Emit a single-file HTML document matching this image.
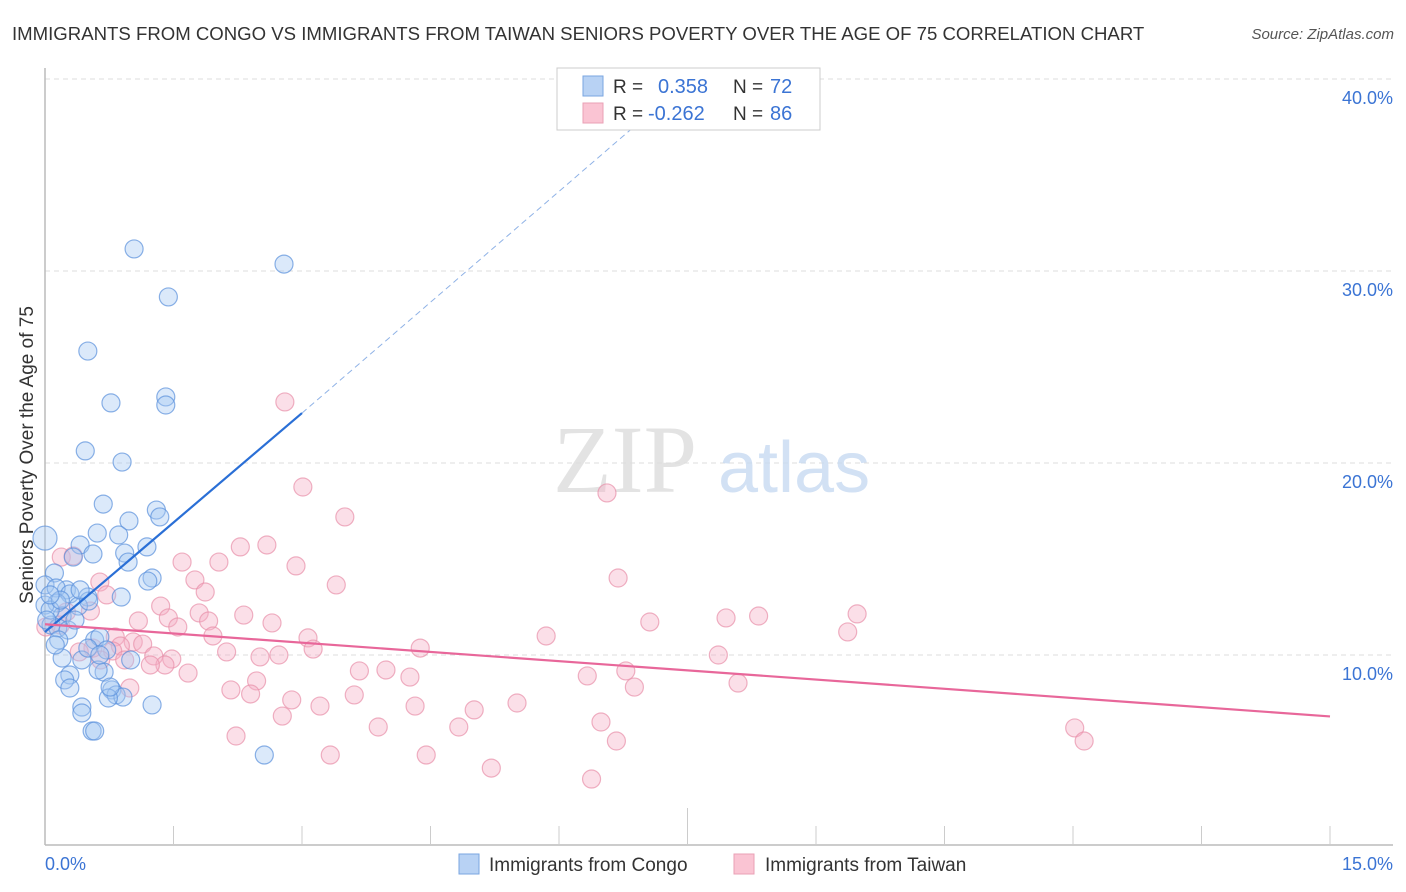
<!DOCTYPE html>
<html><head><meta charset="utf-8"><style>
body{margin:0;background:#fff;font-family:"Liberation Sans",sans-serif}
svg{display:block}
</style></head><body>
<svg id="chart" width="1406" height="892" xmlns="http://www.w3.org/2000/svg">
<text x="12" y="40" font-size="18.6" fill="#333">IMMIGRANTS FROM CONGO VS IMMIGRANTS FROM TAIWAN SENIORS POVERTY OVER THE AGE OF 75 CORRELATION CHART</text>
<text x="1394" y="39" font-size="15" fill="#555" font-style="italic" text-anchor="end">Source: ZipAtlas.com</text>
<g id="grid"></g>
<g><text x="553" y="492" font-size="96" fill="#ddd" font-family="Liberation Serif" opacity="0.8">ZIP</text><text x="718" y="492" font-size="72" fill="#c8daf2" opacity="0.8">atlas</text></g>
<g id="axes"></g>
<g id="pts"></g>
<g id="trends"></g>
<text x="33" y="455" font-size="19" fill="#333" text-anchor="middle" transform="rotate(-90 33 455)">Seniors Poverty Over the Age of 75</text>
<text x="45" y="870" font-size="18" fill="#3b74d4">0.0%</text>
<text x="1393" y="870" font-size="18" fill="#3b74d4" text-anchor="end">15.0%</text>
<g>
<g><rect x="459" y="854" width="20" height="20" fill="#b8d2f4" stroke="#7aa6e0"/><text x="489" y="871" font-size="19" fill="#333">Immigrants from Congo</text></g>
<g><rect x="734" y="854" width="20" height="20" fill="#fac4d3" stroke="#eaa0b6"/><text x="765" y="871" font-size="19" fill="#333">Immigrants from Taiwan</text></g>
</g>
<g>
<rect x="557" y="68" width="263" height="62" fill="#fff" stroke="#ccc"/>
<rect x="583" y="76" width="20" height="20" fill="#b8d2f4" stroke="#7aa6e0"/>
<rect x="583" y="103" width="20" height="20" fill="#fac4d3" stroke="#eaa0b6"/>
<text x="613" y="93" font-size="19" fill="#333">R =</text><text x="658" y="93" font-size="20" fill="#3b74d4">0.358</text>
<text x="733" y="93" font-size="19" fill="#333">N =</text><text x="770" y="93" font-size="20" fill="#3b74d4">72</text>
<text x="613" y="120" font-size="19" fill="#333">R =</text><text x="648" y="120" font-size="20" fill="#3b74d4">-0.262</text>
<text x="733" y="120" font-size="19" fill="#333">N =</text><text x="770" y="120" font-size="20" fill="#3b74d4">86</text>
</g>
</svg>
<script>
const yTicks=[10,20,30,40];
const yTickLabels=["10.0%","20.0%","30.0%","40.0%"];
const congoX=[1.04,2.79,1.44,0.50,1.41,0.77,1.41,0.47,0.90,0.68,1.30,1.34,0.00,0.61,0.98,0.86,0.41,0.33,0.56,1.19,0.93,0.97,0.11,1.25,1.20,0.00,0.25,0.13,0.29,0.50,0.89,0.39,0.14,0.00,0.51,0.20,0.07,0.15,0.27,0.16,0.58,0.64,0.72,0.43,0.29,0.20,0.69,0.62,0.23,0.29,0.78,0.83,0.91,0.74,1.25,0.43,0.43,0.55,0.58,2.56,0.06,0.02,0.35,0.41,0.18,1.00,0.50,0.64,0.76,0.12,0.06];
const congoY=[31.15,30.36,28.65,25.83,23.44,23.13,23.02,20.63,20.05,17.86,17.55,17.19,16.09,16.35,16.98,16.25,15.73,15.10,15.26,15.63,15.31,14.84,14.27,14.01,13.85,13.65,13.39,13.49,13.18,13.02,13.02,12.55,12.71,12.60,12.81,12.03,11.56,11.41,11.30,10.78,10.78,10.94,10.26,9.74,8.96,9.84,9.11,9.22,8.70,8.28,8.18,7.92,7.81,7.76,7.40,7.29,6.98,6.04,6.04,4.79,12.34,11.82,11.82,13.39,12.86,9.74,10.36,10.00,8.33,10.52,13.13];
const taiwanX=[0.19,0.33,0.64,0.53,2.80,3.01,6.56,3.50,2.28,2.59,1.60,2.03,2.93,6.69,1.75,3.40,1.87,1.35,1.80,1.44,2.32,1.91,1.09,1.55,2.65,0.01,8.33,7.95,9.48,7.06,5.85,9.37,1.96,3.07,0.82,1.03,0.88,1.14,0.79,0.56,0.40,3.13,4.38,0.65,1.27,1.48,2.12,2.51,2.73,1.40,1.23,1.67,3.67,3.98,7.86,6.78,6.33,4.26,2.47,6.88,8.09,0.99,2.17,2.40,2.88,3.61,3.21,4.32,5.51,5.01,2.77,3.89,4.83,6.49,12.02,2.23,6.67,12.13,3.33,4.45,5.21,6.38,0.25,0.18,0.72,0.93];
const taiwanY=[15.10,15.16,13.80,12.29,23.18,18.75,18.44,17.19,15.63,15.73,14.84,14.84,14.64,14.01,13.91,13.65,13.28,12.55,12.19,11.93,12.08,11.77,11.77,11.46,11.67,11.46,12.03,11.93,12.14,11.72,10.99,11.20,10.99,10.89,10.94,10.68,10.47,10.57,10.21,10.36,10.16,10.31,10.36,9.74,9.95,9.79,10.16,9.90,10.00,9.48,9.48,9.06,9.17,9.22,10.00,9.17,8.91,8.85,8.65,8.33,8.54,8.28,8.18,7.97,7.66,7.92,7.34,7.34,7.50,7.14,6.82,6.25,6.25,6.51,6.20,5.78,5.52,5.52,4.79,4.79,4.11,3.54,12.24,11.56,13.13,9.74];
const congoTrend=[11.2,22.6,37.8];
const congoTrendX=[0,3.0,6.95];
const taiwanTrend=[11.6,6.8];
const taiwanTrendX=[0,15];
const X0=45,X1=1330,Y0=847,PPY=19.2;
const sx=v=>X0+(X1-X0)*v/15, sy=v=>Y0-v*PPY;
const NS="http://www.w3.org/2000/svg";
function mk(t,a,p){const e=document.createElementNS(NS,t);for(const k in a)e.setAttribute(k,a[k]);p.appendChild(e);return e;}
const grid=document.getElementById('grid'),axes=document.getElementById('axes'),pts=document.getElementById('pts'),tr=document.getElementById('trends');
yTicks.forEach((t,i)=>{
 const l=mk('line',{x1:X0,x2:1393,y1:sy(t),y2:sy(t),stroke:'#ddd','stroke-dasharray':'5,4'},grid);
 
 
 const tx=mk('text',{x:1393,y:sy(t)+25,'font-size':18,fill:'#3b74d4','text-anchor':'end'},grid);
 tx.textContent=yTickLabels[i];
 
 
});
const ax=mk('line',{x1:X0,x2:1393,y1:845,y2:845,stroke:'#bbb','stroke-width':1.5},axes);


const ay=mk('line',{x1:X0,x2:X0,y1:68,y2:845,stroke:'#bbb','stroke-width':1.5},axes);


for(let i=1;i<=10;i++){const x=sx(i*1.5);const tk=mk('line',{x1:x,x2:x,y1:i==5?808:826,y2:845,stroke:'#ccc'},axes);
 
 }
function dots(xs,ys,fill,stroke,name){xs.forEach((v,i)=>{const r=(v===0&&ys[i]>16)?12:9;
 const c=mk('circle',{cx:sx(v),cy:sy(ys[i]),r:r,fill:fill,'fill-opacity':0.4,stroke:stroke,'stroke-opacity':0.7,'stroke-width':1.2},pts);
 
 });}
dots(taiwanX,taiwanY,'#f5b0c5','#e890aa','taiwan-point');
dots(congoX,congoY,'#a6c8f2','#5a90dc','congo-point');
const b1=mk('line',{x1:sx(congoTrendX[0]),y1:sy(congoTrend[0]),x2:sx(congoTrendX[1]),y2:sy(congoTrend[1]),stroke:'#2a6fd6','stroke-width':2.2},tr);


const b2=mk('line',{x1:sx(congoTrendX[1]),y1:sy(congoTrend[1]),x2:sx(congoTrendX[2]),y2:sy(congoTrend[2]),stroke:'#8fb2e6','stroke-width':1,'stroke-dasharray':'6,4'},tr);


const p1=mk('line',{x1:sx(taiwanTrendX[0]),y1:sy(taiwanTrend[0]),x2:sx(taiwanTrendX[1]),y2:sy(taiwanTrend[1]),stroke:'#e8679a','stroke-width':2.2},tr);


</script>
</body></html>
